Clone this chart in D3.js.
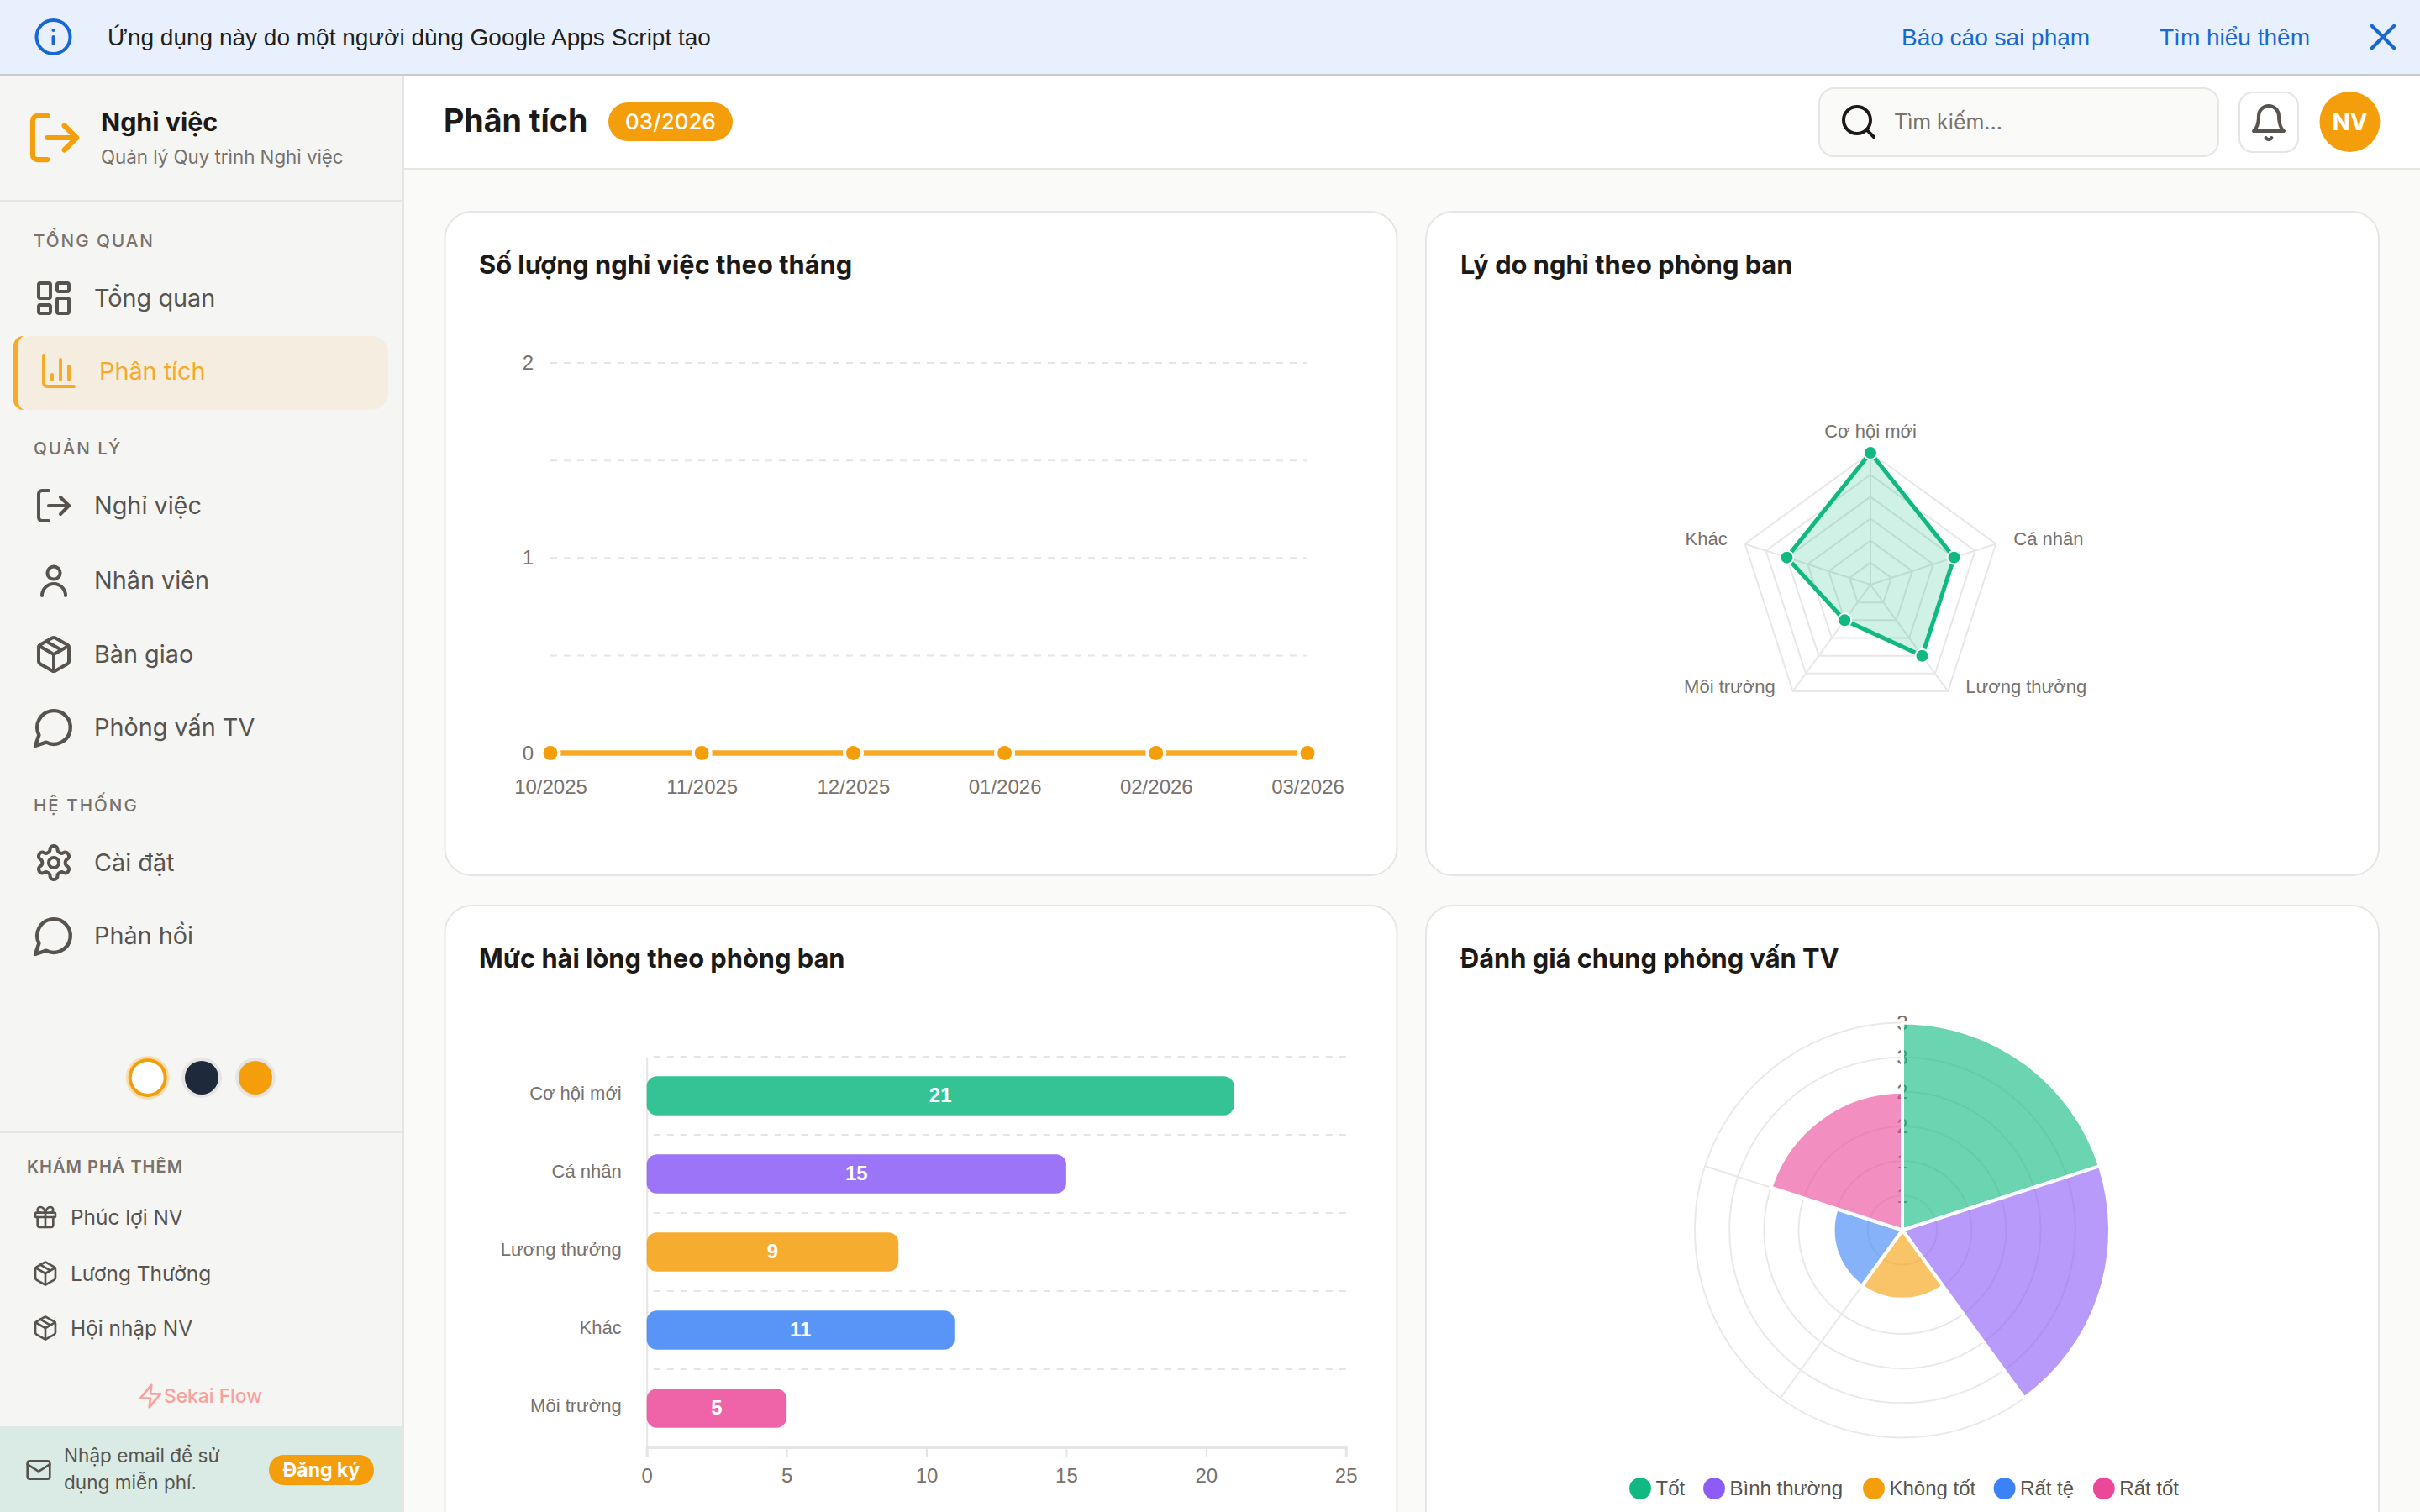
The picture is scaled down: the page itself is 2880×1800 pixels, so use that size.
<!DOCTYPE html>
<html><head><meta charset="utf-8">
<script src="https://cdn.jsdelivr.net/npm/d3@7"></script>
<style>
html,body{margin:0;padding:0;background:#fafaf8;overflow:hidden}
svg{display:block}
</style></head><body><svg id="page" width="2880" height="1800" viewBox="0 0 2880 1800"></svg>
<script>
// ---- chart data ----
const months = ["10/2025","11/2025","12/2025","01/2026","02/2026","03/2026"];
const monthlyCounts = [0,0,0,0,0,0];
const reasonLabels = ["Cơ hội mới","Cá nhân","Lương thưởng","Môi trường","Khác"];
const reasonValues = [6,4,4,2,4];
const satisfactionLabels = ["Cơ hội mới","Cá nhân","Lương thưởng","Khác","Môi trường"];
const satisfactionValues = [21,15,9,11,5];
const ratingLabels = ["Tốt","Bình thường","Không tốt","Rất tệ","Rất tốt"];
const ratingValues = [3,3,1,1,2];
const ratingColors = ["#10b981","#8b5cf6","#f59e0b","#3b82f6","#ec4899"];
const satisfactionColors = ["#10b981","#8b5cf6","#f59e0b","#3b82f6","#ec4899"];
const lineTicks = [0,0.5,1,1.5,2];
const barTicks = [0,5,10,15,20,25];
const polarTicks = [0.5,1,1.5,2,2.5,3];
const pageTitle = "Phân tích";
const periodBadge = "03/2026";
const cardTitles = ["Số lượng nghỉ việc theo tháng","Lý do nghỉ theo phòng ban","Mức hài lòng theo phòng ban","Đánh giá chung phỏng vấn TV"];
const navLabels = ["Tổng quan","Phân tích","Nghỉ việc","Nhân viên","Bàn giao","Phỏng vấn TV","Cài đặt","Phản hồi"];
const sectionLabels = ["TỔNG QUAN","QUẢN LÝ","HỆ THỐNG"];
const exploreLabels = ["Phúc lợi NV","Lương Thưởng","Hội nhập NV"];

// ---- helpers ----
const UI = "Inter, 'Noto Sans', sans-serif";
const CH = "'Liberation Sans', Arial, sans-serif";
const INK = "#1c1917", MUTED = "#78716c", BODY = "#57534e", AMBER = "#f59e0b", LINE = "#e7e5e4";
const svg = d3.select("#page");
function rect(g,x,y,w,h,fill,o={}){return g.append("rect").attr("x",x).attr("y",y).attr("width",w).attr("height",h).attr("fill",fill).attr("rx",o.r||0).attr("stroke",o.stroke||"none").attr("stroke-width",o.sw||0);}
function text(g,s,x,y,o={}){return g.append("text").text(s).attr("x",x).attr("y",y).attr("dy","0.35em")
  .attr("font-family",o.font||UI).attr("font-size",o.size||24).attr("font-weight",o.weight||400).attr("fill",o.fill||BODY)
  .attr("text-anchor",o.anchor||"start").attr("letter-spacing",o.ls||0);}
const icons = {
 grid:'<rect x="3" y="3" width="7" height="9" rx="1"/><rect x="14" y="3" width="7" height="5" rx="1"/><rect x="14" y="12" width="7" height="9" rx="1"/><rect x="3" y="16" width="7" height="5" rx="1"/>',
 chart:'<path d="M3 3v16a2 2 0 0 0 2 2h16"/><path d="M18 17V9"/><path d="M13 17V5"/><path d="M8 17v-3"/>',
 out:'<path d="M9 21H5a2 2 0 0 1-2-2V5a2 2 0 0 1 2-2h4"/><path d="m16 17 5-5-5-5"/><path d="M21 12H9"/>',
 user:'<circle cx="12" cy="7.5" r="3.8"/><path d="M19 21a7 7 0 0 0-14 0"/>',
 pack:'<path d="M11 21.73a2 2 0 0 0 2 0l7-4A2 2 0 0 0 21 16V8a2 2 0 0 0-1-1.73l-7-4a2 2 0 0 0-2 0l-7 4A2 2 0 0 0 3 8v8a2 2 0 0 0 1 1.73z"/><path d="M12 22V12"/><path d="m3.3 7 8.7 5 8.7-5"/><path d="m7.5 4.27 9 5.15"/>',
 msg:'<path d="M7.9 20A9 9 0 1 0 4 16.1L2 22Z"/>',
 gear:'<path d="M12.22 2h-.44a2 2 0 0 0-2 2v.18a2 2 0 0 1-1 1.73l-.43.25a2 2 0 0 1-2 0l-.15-.08a2 2 0 0 0-2.73.73l-.22.38a2 2 0 0 0 .73 2.73l.15.1a2 2 0 0 1 1 1.72v.51a2 2 0 0 1-1 1.74l-.15.09a2 2 0 0 0-.73 2.73l.22.38a2 2 0 0 0 2.73.73l.15-.08a2 2 0 0 1 2 0l.43.25a2 2 0 0 1 1 1.73V20a2 2 0 0 0 2 2h.44a2 2 0 0 0 2-2v-.18a2 2 0 0 1 1-1.73l.43-.25a2 2 0 0 1 2 0l.15.08a2 2 0 0 0 2.73-.73l.22-.39a2 2 0 0 0-.73-2.73l-.15-.08a2 2 0 0 1-1-1.74v-.5a2 2 0 0 1 1-1.74l.15-.09a2 2 0 0 0 .73-2.73l-.22-.38a2 2 0 0 0-2.73-.73l-.15.08a2 2 0 0 1-2 0l-.43-.25a2 2 0 0 1-1-1.73V4a2 2 0 0 0-2-2z"/><circle cx="12" cy="12" r="3"/>',
 gift:'<rect x="3" y="8" width="18" height="4" rx="1"/><path d="M12 8v13"/><path d="M19 12v7a2 2 0 0 1-2 2H7a2 2 0 0 1-2-2v-7"/><path d="M7.5 8a2.5 2.5 0 0 1 0-5A4.8 8 0 0 1 12 8a4.8 8 0 0 1 4.5-5 2.5 2.5 0 0 1 0 5"/>',
 zap:'<path d="M13 2 3 14h9l-1 8 10-12h-9l1-8z"/>',
 mail:'<rect x="2" y="4" width="20" height="16" rx="2"/><path d="m22 7-8.97 5.7a1.94 1.94 0 0 1-2.06 0L2 7"/>',
 bell:'<path d="M6 8a6 6 0 0 1 12 0c0 7 3 9 3 9H3s3-2 3-9"/><path d="M10.3 21a1.94 1.94 0 0 0 3.4 0"/>',
 search:'<circle cx="11" cy="11" r="8"/><path d="m21 21-4.3-4.3"/>',
 info:'<circle cx="12" cy="12" r="10"/><path d="M12 16v-4"/><path d="M12 8h.01"/>',
 close:'<path d="M18 6 6 18"/><path d="m6 6 12 12"/>'
};
function icon(g,name,cx,cy,scale,color,sw=2){
  g.append("g").attr("transform",`translate(${cx-12*scale},${cy-12*scale}) scale(${scale})`)
   .attr("fill","none").attr("stroke",color).attr("stroke-width",sw).attr("stroke-linecap","round").attr("stroke-linejoin","round")
   .html(icons[name]);
}

// ---- page chrome ----
rect(svg,0,0,2880,1800,"#fafaf8");
const banner = svg.append("g");
rect(banner,0,0,2880,88,"#e8f0fe"); rect(banner,0,88,2880,2,"#c9cacc");
icon(banner,"info",63.5,44,2,"#1967d2");
text(banner,"Ứng dụng này do một người dùng Google Apps Script tạo",128,44,{font:CH,size:28,fill:"#1f1f1f"});
text(banner,"Báo cáo sai phạm",2263,44,{font:CH,size:28,fill:"#1967d2"});
text(banner,"Tìm hiểu thêm",2570,44,{font:CH,size:28,fill:"#1967d2"});
icon(banner,"close",2836,44,2.2,"#1967d2",1.9);

const topBar = svg.append("g");
rect(topBar,480,90,2400,110,"#ffffff"); rect(topBar,480,200,2400,2,LINE);
text(topBar,pageTitle,528,144,{size:37.6,weight:700,fill:INK});
rect(topBar,724,122,148,46,AMBER,{r:23});
text(topBar,periodBadge,798,145,{size:26,weight:500,fill:"#fff",anchor:"middle"});
rect(topBar,2165,105,475,81,"#fafaf8",{r:18,stroke:LINE,sw:2});
icon(topBar,"search",2212,145,2,INK);
text(topBar,"Tìm kiếm...",2254,145,{size:25,fill:"#78716c"});
rect(topBar,2665,110,70,71,"#fff",{r:16,stroke:LINE,sw:2});
icon(topBar,"bell",2700,146,2,BODY);
topBar.append("circle").attr("cx",2796.5).attr("cy",145).attr("r",36).attr("fill",AMBER);
text(topBar,"NV",2796.5,145,{size:28,weight:700,fill:"#fff",anchor:"middle"});

// ---- sidebar ----
const side = svg.append("g");
rect(side,0,90,479,1710,"#f5f5f3"); rect(side,479,90,2,1710,LINE);
rect(side,0,238,479,2,LINE);
icon(side,"out",65,164,2.9,AMBER,2.1);
text(side,"Nghỉ việc",120,145,{size:30.4,weight:700,fill:INK});
text(side,"Quản lý Quy trình Nghỉ việc",120,187,{size:22.3,fill:MUTED});
const sectionY = [287,534,959];
sectionLabels.forEach((s,i)=>text(side,s,40,sectionY[i],{size:20.6,weight:500,fill:MUTED,ls:2}));
const navY = [355,442,602,691,779,866,1027,1114];
const navIcons = ["grid","chart","out","user","pack","msg","gear","msg"];
rect(side,16,400,446,88,"#f5ede0",{r:20});
side.append("path").attr("d","M28 400 a12 12 0 0 0 -12 14 v60 a12 12 0 0 0 12 14 a12 12 0 0 1 -6 -14 v-60 a12 12 0 0 1 6 -14z").attr("fill","#f7a928");
navLabels.forEach((s,i)=>{
  const active = i===1;
  icon(side,navIcons[i],active?70:64,navY[i],navIcons[i]==="msg"?2.2:2,active?"#f7a928":BODY);
  text(side,s,active?118:112,navY[i],{size:28.8,fill:active?"#f7a928":BODY});
});
[[175.7,1],[240,0],[304,0]].forEach(([cx,on],i)=>{
  const fills=["#ffffff","#1e293b",AMBER];
  side.append("circle").attr("cx",cx).attr("cy",1283).attr("r",on?26:24).attr("fill",on?"#f8dfb4":"#e7e5e4");
  if(on) side.append("circle").attr("cx",cx).attr("cy",1283).attr("r",23).attr("fill",AMBER);
  side.append("circle").attr("cx",cx).attr("cy",1283).attr("r",on?19:20).attr("fill",fills[i]);
});
rect(side,0,1347,479,2,LINE);
text(side,"KHÁM PHÁ THÊM",32,1389,{size:20,weight:600,fill:MUTED,ls:1});
const exploreY=[1449,1516,1581], exploreIcons=["gift","pack","pack"];
exploreLabels.forEach((s,i)=>{icon(side,exploreIcons[i],54,exploreY[i],1.33,BODY);text(side,s,84,exploreY[i],{size:24.4,fill:BODY});});
icon(side,"zap",179,1662,1.33,"#f8a29c");
text(side,"Sekai Flow",195,1662,{size:22.8,weight:500,fill:"#f8a29c"});
rect(side,0,1698,479,102,"#d9ebe4");
icon(side,"mail",46,1750,1.33,BODY);
text(side,"Nhập email để sử",76,1733,{size:22.6,fill:BODY});
text(side,"dụng miễn phí.",76,1765,{size:22.6,fill:BODY});
rect(side,320,1732,125,36,AMBER,{r:18});
text(side,"Đăng ký",382.5,1750,{size:23,weight:700,fill:"#fff",anchor:"middle"});

// ---- cards ----
const cards = [[529.5,252,1133,790],[1697,252,1134,790],[529.5,1078,1133,760],[1697,1078,1134,760]];
const titleX = [570,1738,570,1738];
const titleY = [315,315,1141,1141];
cards.forEach((c,i)=>{
  rect(svg,c[0],c[1],c[2],c[3],"#fff",{r:32,stroke:LINE,sw:2});
  text(svg,cardTitles[i],titleX[i],titleY[i],{size:30.8,weight:700,fill:INK});
});

function styleAxisText(sel,size=24){
  sel.selectAll("text").attr("font-family",CH).attr("font-size",size).attr("fill",MUTED);
}

// ---- line chart ----
{
  const x = d3.scalePoint().domain(months).range([655,1556]);
  const y = d3.scaleLinear().domain([0,2]).range([896.5,432]);
  const gy = svg.append("g").attr("transform","translate(655,0)")
    .call(d3.axisLeft(y).tickValues(lineTicks).tickSize(0).tickPadding(20).tickFormat(d=>Number.isInteger(d)?d:""));
  gy.select(".domain").remove(); styleAxisText(gy);
  svg.append("g").selectAll("line").data(lineTicks.filter(d=>d>0)).join("line")
    .attr("x1",x.range()[0]).attr("x2",x.range()[1]).attr("y1",d=>y(d)).attr("y2",d=>y(d))
    .attr("stroke","#e7e5e4").attr("stroke-width",2).attr("stroke-dasharray","8 8");
  const gx = svg.append("g").attr("transform","translate(0,896.5)")
    .call(d3.axisBottom(x).tickSize(0).tickPadding(31));
  gx.select(".domain").remove(); styleAxisText(gx);
  svg.append("path").datum(monthlyCounts)
    .attr("d",d3.line().x((d,i)=>x(months[i])).y(d=>y(d)))
    .attr("fill","none").attr("stroke","#f9a826").attr("stroke-width",6.5);
  svg.append("g").selectAll("circle").data(monthlyCounts).join("circle")
    .attr("cx",(d,i)=>x(months[i])).attr("cy",d=>y(d)).attr("r",10.5)
    .attr("fill",AMBER).attr("stroke","#fff").attr("stroke-width",4);
}

// ---- radar chart ----
{
  const cx=2226, cy=696, R=157;
  const r = d3.scaleLinear().domain([0,6]).range([0,R]);
  const a = d3.scalePoint().domain(d3.range(reasonLabels.length+1)).range([0,2*Math.PI]);
  const g = svg.append("g").attr("transform",`translate(${cx},${cy})`);
  const ring = d3.lineRadial().angle((d,i)=>a(i)).curve(d3.curveLinearClosed);
  d3.range(1,7).forEach(v=>{
    g.append("path").attr("d",ring.radius(r(v))(reasonLabels)).attr("fill","none").attr("stroke","#e7e7e5").attr("stroke-width",2);
  });
  reasonLabels.forEach((l,i)=>{
    const p=d3.pointRadial(a(i),R);
    g.append("line").attr("x2",p[0]).attr("y2",p[1]).attr("stroke","#e7e7e5").attr("stroke-width",2);
    const dx = i===0?0:(p[0]>0?21:-21), dy = i===0?-26:-6;
    text(g,l,p[0]+dx,p[1]+dy,{font:CH,size:22,fill:MUTED,anchor:i===0?"middle":(p[0]>0?"start":"end")});
  });
  const poly = d3.lineRadial().angle((d,i)=>a(i)).radius(d=>r(d)).curve(d3.curveLinearClosed);
  g.append("path").attr("d",poly(reasonValues)).attr("fill","rgba(16,185,129,0.2)").attr("stroke","#10b981").attr("stroke-width",5);
  g.selectAll("circle").data(reasonValues).join("circle")
    .attr("transform",(d,i)=>`translate(${d3.pointRadial(a(i),r(d))})`)
    .attr("r",8).attr("fill","#10b981").attr("stroke","#fff").attr("stroke-width",2);
}

// ---- horizontal bars ----
{
  const x = d3.scaleLinear().domain([0,25]).range([769.7,1601.7]);
  const y = d3.scaleBand().domain(satisfactionLabels).range([1258,1723]).paddingInner(0).paddingOuter(0);
  const gg = svg.append("g");
  satisfactionLabels.forEach(l=>{
    const yy=y(l);
    gg.append("line").attr("x1",x(25)).attr("x2",x(0)).attr("y1",yy).attr("y2",yy).attr("stroke","#e7e5e4").attr("stroke-width",2).attr("stroke-dasharray","8 8");
  });
  const gx = svg.append("g").attr("transform","translate(0,1723)")
    .call(d3.axisBottom(x).tickValues(barTicks).tickSize(11).tickPadding(14));
  gx.select(".domain").attr("stroke","#e7e5e4").attr("stroke-width",3);
  gx.selectAll("line").attr("stroke","#e7e5e4").attr("stroke-width",2);
  styleAxisText(gx);
  const gy = svg.append("g").attr("transform","translate(769.7,0)")
    .call(d3.axisLeft(y).tickSize(0).tickPadding(30));
  gy.select(".domain").attr("stroke","#e7e5e4").attr("stroke-width",2);
  styleAxisText(gy,22);
  gy.selectAll("text").attr("dy","0.22em");
  const bh = y.bandwidth()*0.5;
  const bars = svg.append("g").selectAll("g").data(satisfactionValues).join("g");
  bars.append("rect").attr("x",x(0)).attr("y",(d,i)=>y(satisfactionLabels[i])+y.bandwidth()/2-bh/2)
    .attr("width",d=>x(d)-x(0)).attr("height",bh).attr("rx",12)
    .attr("fill",(d,i)=>satisfactionColors[i]).attr("fill-opacity",0.85);
  bars.append("text").text(d=>d).attr("x",d=>(x(d)+x(0))/2).attr("y",(d,i)=>y(satisfactionLabels[i])+y.bandwidth()/2)
    .attr("dy","0.33em").attr("text-anchor","middle").attr("font-family",CH).attr("font-weight",700).attr("font-size",24).attr("fill","#fff");
}

// ---- polar area ----
{
  const cx=2264, cy=1464.5;
  const r = d3.scaleLinear().domain([0,3]).range([0,247]);
  const pie = d3.pie().sort(null).value(1)(ratingValues);
  const g = svg.append("g").attr("transform",`translate(${cx},${cy})`);
  polarTicks.forEach(v=>g.append("circle").attr("r",r(v)).attr("fill","none").attr("stroke","#e9e9e7").attr("stroke-width",2));
  pie.forEach(s=>{
    const p=d3.pointRadial(s.startAngle,r(3));
    g.append("line").attr("x2",p[0]).attr("y2",p[1]).attr("stroke","#e9e9e7").attr("stroke-width",2);
  });
  polarTicks.forEach(v=>text(g,Math.round(v+0.001),0,-r(v),{font:CH,size:24,fill:MUTED,anchor:"middle"}));
  const arc = d3.arc().innerRadius(0).outerRadius(d=>r(d.data));
  g.selectAll("path.seg").data(pie).join("path").attr("class","seg").attr("d",arc)
    .attr("fill",(d,i)=>ratingColors[i]).attr("fill-opacity",0.62).attr("stroke","#fff").attr("stroke-width",4).attr("stroke-linejoin","round");
  // legend
  const legendX=[1952,2040,2230,2385.6,2503.8];
  const lg = svg.append("g").attr("transform","translate(0,1772)");
  ratingLabels.forEach((l,i)=>{
    lg.append("circle").attr("cx",legendX[i]).attr("cy",0).attr("r",13).attr("fill",ratingColors[i]);
    text(lg,l,legendX[i]+18.5,0,{font:CH,size:24,fill:BODY});
  });
}
</script></body></html>
